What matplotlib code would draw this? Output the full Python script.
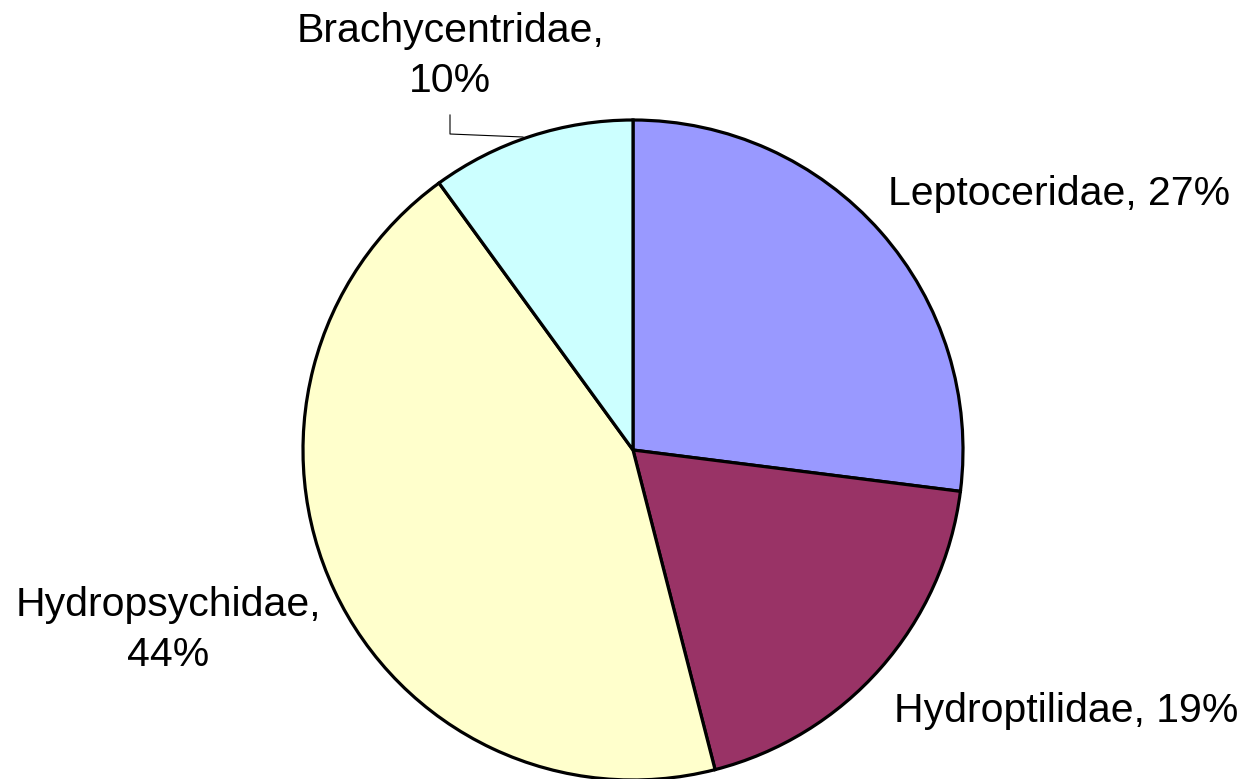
import matplotlib.pyplot as plt

# Données du graphique
familles = ["Leptoceridae", "Hydroptilidae", "Hydropsychidae", "Brachycentridae"]
pourcents = [27, 19, 44, 10]
couleurs = ["#9999FF", "#993366", "#FFFFCC", "#CCFFFF"]
etiquettes = ["Leptoceridae, 27%", "Hydroptilidae, 19%", "Hydropsychidae,\n44%", "Brachycentridae,\n10%"]

W, H = 1241, 779
fig = plt.figure(figsize=(W / 100, H / 100), dpi=100)
ax = fig.add_axes([0, 0, 1, 1])

# Camembert (repère en pixels, y vers le haut)
ax.pie(pourcents, colors=couleurs, startangle=90, counterclock=False,
       center=(633, H - 450), radius=330, frame=True,
       wedgeprops=dict(edgecolor="black", linewidth=2.3))
ax.set_xlim(0, W)
ax.set_ylim(0, H)
ax.set_aspect("equal")
ax.axis("off")

# Etiquettes
police = dict(family=["Liberation Sans", "DejaVu Sans"], fontsize=29.5, color="black")
positions = [(1059, H - 194), (1066, H - 711), (168, H - 630), (450, H - 56)]
for txt, (x, y) in zip(etiquettes, positions):
    ax.text(x, y, txt, ha="center", va="center", linespacing=1.4, **police)

# Trait de rappel pour Brachycentridae
ax.plot([450, 450, 523], [H - 115, H - 134, H - 137], color="black", lw=0.8)

fig.savefig("out.png", dpi=100)
